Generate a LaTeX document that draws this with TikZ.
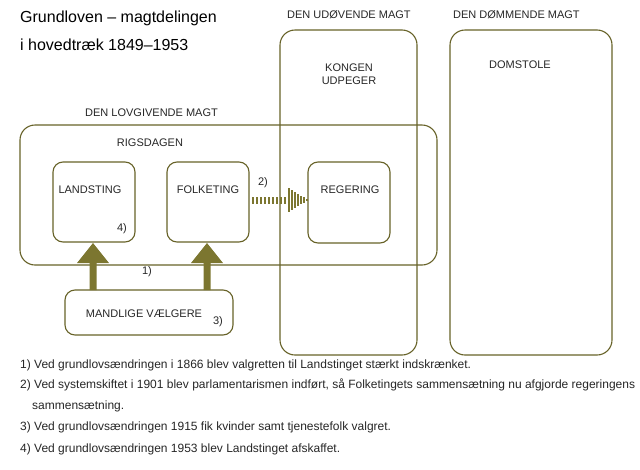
\documentclass[tikz,border=0pt]{standalone}
\usepackage{fontspec}
\setmainfont{Liberation Sans}
\begin{document}
\begin{tikzpicture}[x=1pt,y=-1pt,
  box/.style={draw=olive!75!black,line width=1.1pt,rounded corners=10pt},
  lbl/.style={font=\fontsize{11}{13}\selectfont,text=black!85},
  note/.style={font=\fontsize{12}{14}\selectfont,text=black!85,anchor=west,inner sep=0pt},
  fat/.style={fill=olive!90!black,draw=none}]
\definecolor{olive}{HTML}{8A8335}
\useasboundingbox (0,0) rectangle (640,469);
\node[anchor=west,inner sep=0pt,font=\fontsize{16}{18}\selectfont] (t1) at (20,18) {Grundloven -- magtdelingen};
\node[anchor=west,inner sep=0pt,font=\fontsize{16}{18}\selectfont] (t2) at (20,45) {i hovedtræk 1849--1953};
\draw[box,rounded corners=15pt] (20,125) rectangle (437,265);
\draw[box,rounded corners=15pt] (280,30) rectangle (417,355);
\draw[box,rounded corners=15pt] (450,30) rectangle (612,355);
\node[lbl,anchor=west,inner sep=0pt] (lov) at (85,113) {DEN LOVGIVENDE MAGT};
\node[lbl,anchor=west,inner sep=0pt] (udo) at (287,15) {DEN UDØVENDE MAGT};
\node[lbl,anchor=west,inner sep=0pt] (dom) at (453,15) {DEN DØMMENDE MAGT};
\node[lbl] (rig) at (150,143) {RIGSDAGEN};
\node[lbl,align=center] (kon) at (349,74) {KONGEN\\UDPEGER};
\node[lbl] (dst) at (520,65) {DOMSTOLE};
\node[box,minimum width=82pt,minimum height=80pt] (land) at (94,202) {};
\node[lbl] at (90,190) {LANDSTING};
\node[box,minimum width=82pt,minimum height=80pt] (folk) at (208,202) {};
\node[lbl] at (208,190) {FOLKETING};
\node[box,minimum width=82pt,minimum height=81pt] (reg) at (349,202.5) {};
\node[lbl] at (350,190) {REGERING};
\node[box,minimum width=168pt,minimum height=45pt] (vael) at (149,312.5) {};
\node[lbl] at (144,314) {MANDLIGE VÆLGERE};
\node[lbl] at (122,229) {4)};
\node[lbl] at (218,322) {3)};
\node[lbl] at (147,272) {1)};
\node[lbl] at (263,183) {2)};
\foreach \x in {93,207}{
  \fill[fat] (\x-3.5,290) -- (\x-3.5,263) -- (\x-16,263) -- (\x,243) -- (\x+16,263) -- (\x+3.5,263) -- (\x+3.5,290) -- cycle;}
% striped arrow
\foreach \x in {252,256,...,284}{\fill[fat] (\x,196.5) rectangle (\x+2.3,203.5);}
\foreach \x in {288,291,...,306}{
  \pgfmathsetmacro{\h}{12*(307-\x)/19}
  \fill[fat] (\x,200-\h) rectangle (\x+1.8,200+\h);}
\node[note] (n1) at (20,365) {1) Ved grundlovsændringen i 1866 blev valgretten til Landstinget stærkt indskrænket.};
\node[note] (n2) at (20,385) {2) Ved systemskiftet i 1901 blev parlamentarismen indført, så Folketingets sammensætning nu afgjorde regeringens};
\node[note] (n2b) at (20,406) {\hspace*{12pt}sammensætning.};
\node[note] (n3) at (20,427) {3) Ved grundlovsændringen 1915 fik kvinder samt tjenestefolk valgret.};
\node[note] (n4) at (20,449) {4) Ved grundlovsændringen 1953 blev Landstinget afskaffet.};
\end{tikzpicture}
\end{document}
